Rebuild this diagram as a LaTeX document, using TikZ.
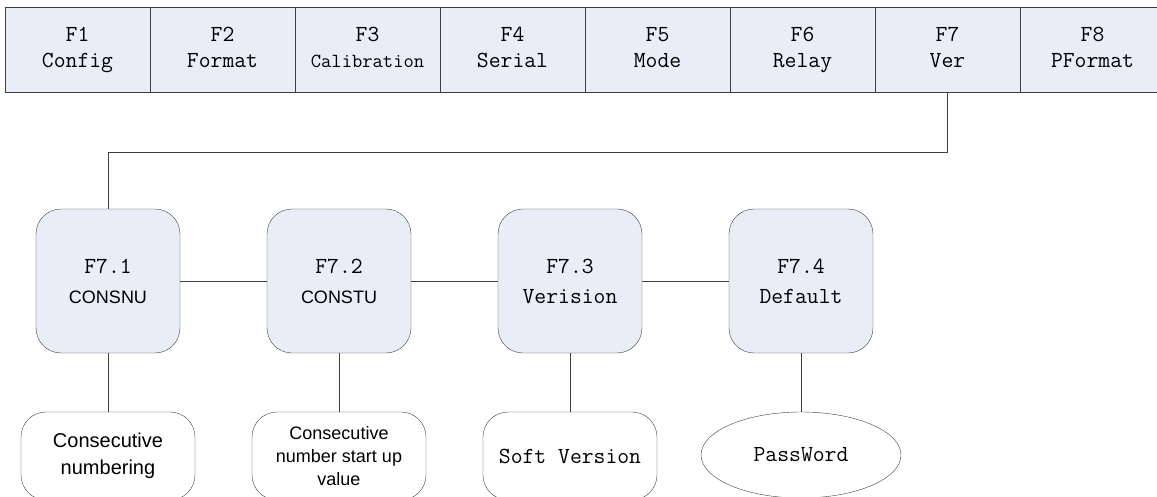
\documentclass[tikz,border=0pt]{standalone}
\usepackage{fontspec}
\setsansfont{Liberation Sans}
\usepackage{tikz}
\usetikzlibrary{shapes.geometric}

\definecolor{menublue}{RGB}{232,237,248}
\tikzset{
  menu/.style={draw=black!75,fill=menublue,minimum width=145pt,minimum height=85pt,inner sep=0pt,align=center,font=\fontsize{23}{26}\selectfont\ttfamily},
  subbox/.style={draw=black!75,fill=menublue,rounded corners=25pt,minimum width=144pt,minimum height=144pt,inner sep=0pt,align=center,font=\fontsize{23}{30}\selectfont\ttfamily},
  leaf/.style={draw=black!75,rounded corners=25pt,minimum width=174pt,minimum height=88pt,inner sep=0pt,align=center},
  link/.style={draw=black!75,line width=0.9pt}
}

\begin{document}
\begin{tikzpicture}[x=1pt,y=-1pt]
      \useasboundingbox (0,0) rectangle (1157,497);
      % top menu
      \foreach \lbl [count=\i] in {Config,Format,{\fontsize{20}{26}\selectfont Calibration},Serial,Mode,Relay,Ver,PFormat}
        \node[menu] (f\i) at ({-67.5+145*\i},49.5) {\strut F\i\\\strut\lbl};
      % F7 items
      \node[subbox] (s1) at (108,281) {F7.1\\{\sffamily\fontsize{18}{22}\selectfont CONSNU}};
      \node[subbox] (s2) at (339,281) {F7.2\\{\sffamily\fontsize{18}{22}\selectfont CONSTU}};
      \node[subbox] (s3) at (570,281) {F7.3\\Verision};
      \node[subbox] (s4) at (801,281) {F7.4\\Default};
      \node[leaf,font=\sffamily\fontsize{20}{27}\selectfont] (l1) at (108,456) {Consecutive\\numbering};
      \node[leaf,font=\sffamily\fontsize{18}{23}\selectfont] (l2) at (339,456) {Consecutive\\number start up\\value};
      \node[leaf,font=\ttfamily\fontsize{23}{26}\selectfont] (l3) at (570,456) {Soft Version};
      \node[draw=black!75,ellipse,minimum width=200pt,minimum height=86pt,inner sep=0pt,font=\ttfamily\fontsize{23}{26}\selectfont] (l4) at (801,455) {PassWord};
      \draw[link] (f7.south) -- ++(0,60) -| (s1.north);
      \draw[link] (s1) -- (s2) (s2) -- (s3) (s3) -- (s4);
      \draw[link] (s1) -- (l1) (s2) -- (l2) (s3) -- (l3) (s4) -- (l4);
\end{tikzpicture}
\end{document}
